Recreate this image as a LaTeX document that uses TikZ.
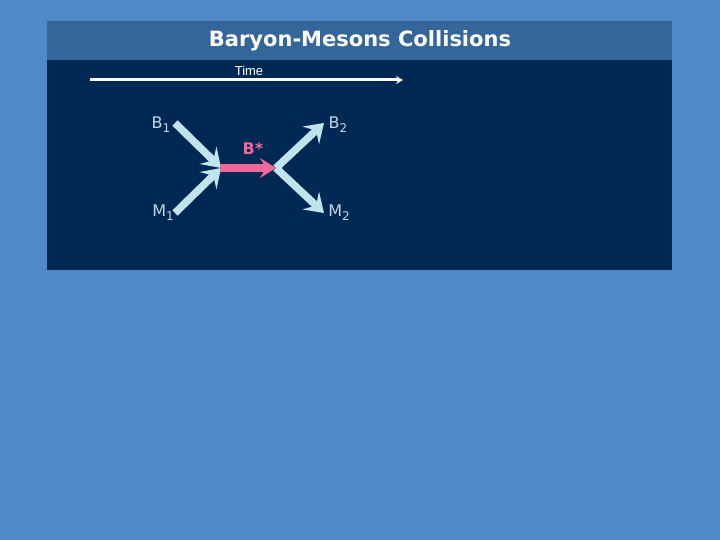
\documentclass[tikz,border=0pt]{standalone}
\usepackage{fontspec}
\setmainfont{DejaVu Sans}
\newfontfamily\timefont{Liberation Sans}
\usetikzlibrary{arrows.meta}
\definecolor{pagebg}{HTML}{4F89C6}
\definecolor{titlebar}{HTML}{346699}
\definecolor{darkbox}{HTML}{002855}
\definecolor{lineblue}{HTML}{C0E4EC}
\definecolor{starpink}{HTML}{F0689A}
\definecolor{labelgray}{HTML}{C8D6E6}
\newcommand{\lowsub}[1]{\raisebox{-4pt}{\fontsize{12}{12}\selectfont #1}}
\tikzset{
  particle/.style={line width=7.5pt, lineblue, -{Stealth[length=18pt,width=24pt,inset=7pt]}},
  resonance/.style={line width=7.5pt, starpink, -{Stealth[length=16pt,width=20pt,inset=6pt]}},
  plabel/.style={text=labelgray, font=\fontsize{16}{16}\selectfont, inner sep=0pt}
}
\begin{document}
\begin{tikzpicture}[x=1pt,y=-1pt]
    \useasboundingbox (0,0) rectangle (720,540);
    % Hintergrund und Kasten
    \fill[pagebg] (0,0) rectangle (720,540);
    \fill[darkbox] (47,60) rectangle (672,270);
    \fill[titlebar] (47,21) rectangle (672,60);
    \node (title) at (360,41) {\fontsize{21}{21}\selectfont\bfseries\color{white} Baryon-Mesons Collisions};

    % Zeitachse
    \coordinate (t0) at (90,80);
    \coordinate (t1) at (403,80);
    \draw[white, line width=3pt, -{Stealth[length=7pt,width=8pt]}] (t0) -- (t1);
    \node[text=white, font=\timefont\fontsize{13}{13}\selectfont, inner sep=0pt] (time) at (249,71) {Time};

    % Eckpunkte
    \coordinate (in1) at (175,123);
    \coordinate (in2) at (175,213);
    \coordinate (V1) at (221,168);
    \coordinate (V2) at (276,168);
    \coordinate (out1) at (324,123);
    \coordinate (out2) at (324,213);

    \draw[particle] (in1) -- (V1);
    \draw[particle] (in2) -- (V1);
    \draw[resonance, shorten <=-1pt] (V1) -- (V2);
    \draw[particle] (V2) -- (out1);
    \draw[particle] (V2) -- (out2);

    % Beschriftung
    \node[plabel] (b1) at (161,125) {B\lowsub{1}};
    \node[plabel] (m1) at (163,213) {M\lowsub{1}};
    \node[plabel] (b2) at (338,125) {B\lowsub{2}};
    \node[plabel] (m2) at (339,213) {M\lowsub{2}};
    \node[text=starpink, font=\fontsize{16}{16}\selectfont\bfseries, inner sep=0pt] (bstar) at (253,149) {B*};
\end{tikzpicture}
\end{document}
